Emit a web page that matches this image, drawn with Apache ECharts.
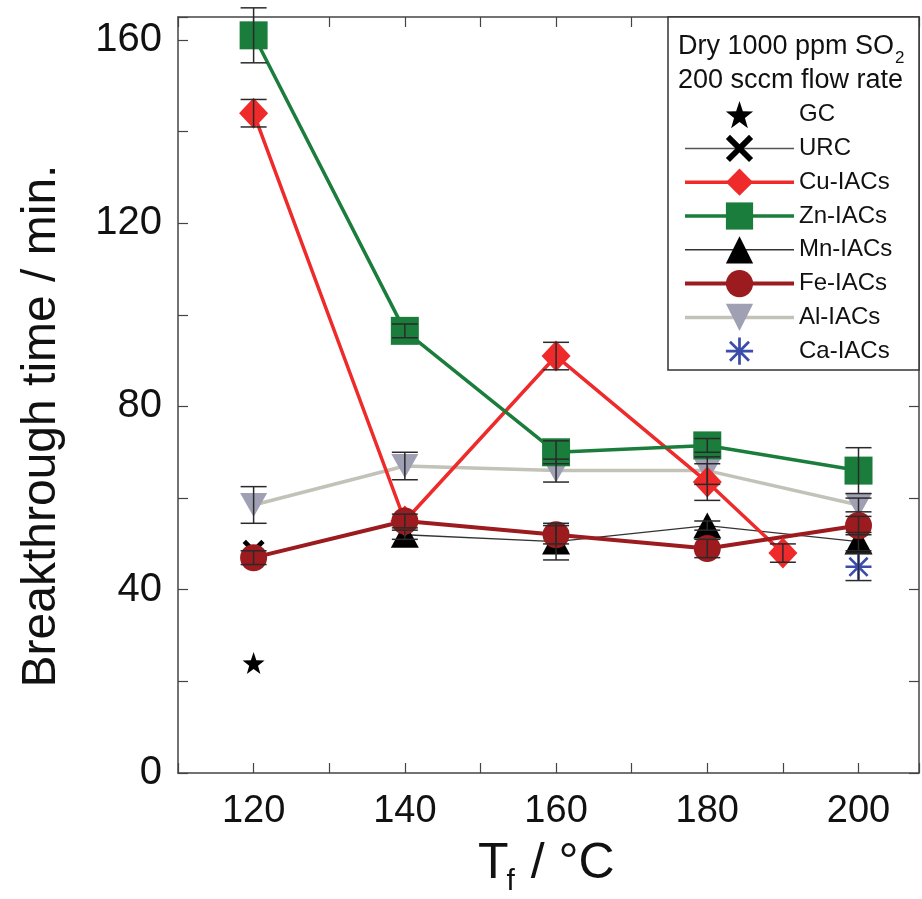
<!DOCTYPE html>
<html><head><meta charset="utf-8">
<script src="https://cdn.jsdelivr.net/npm/echarts@6/dist/echarts.min.js"></script>
<style>html,body{margin:0;padding:0;background:#fff}#c{width:922px;height:899px}</style>
</head><body><div id="c"></div>
<script>
// ---- data ----
const xTickLabels = [120, 140, 160, 180, 200];
const yTickLabels = [0, 40, 80, 120, 160];
const gcT = [120], gcV = [24];
const urcT = [120], urcV = [48.5];
const cuT = [120, 140, 160, 180, 190], cuV = [144, 55, 91, 63.5, 48], cuE = [3, 0, 3, 4, 2];
const znT = [120, 140, 160, 180, 200], znV = [161, 96.5, 70, 71.5, 66], znE = [6, 1.5, 2.5, 1.5, 5];
const mnT = [140, 160, 180, 200], mnV = [52, 50.5, 54, 50.5], mnE = [1, 4, 1, 2];
const feT = [120, 140, 160, 180, 200], feV = [47, 55, 52, 49, 54], feE = [1.5, 1.5, 2, 2, 2];
const alT = [120, 140, 160, 180, 200], alV = [58.5, 67, 66, 66, 58.5], alE = [4, 3, 2.5, 3, 1.5];
const caT = [200], caV = [45], caE = [3];
const legendNames = ['GC', 'URC', 'Cu-IACs', 'Zn-IACs', 'Mn-IACs', 'Fe-IACs', 'Al-IACs', 'Ca-IACs'];

const FONT = "Arial, 'Liberation Sans', sans-serif";
const pts = (T, V) => T.map((t, i) => [t, V[i]]);
const errs = (T, V, E) => T.map((t, i) => [t, V[i] - E[i], V[i] + E[i], E[i]]).filter(d => d[3] > 0);

const STAR = 'path://M0,-10 L2.35,-3.24 L9.51,-3.09 L3.8,1.24 L5.88,8.09 L0,4 L-5.88,8.09 L-3.8,1.24 L-9.51,-3.09 L-2.35,-3.24 Z';
const CROSS = 'path://M-10,-7 L-7,-10 L0,-3 L7,-10 L10,-7 L3,0 L10,7 L7,10 L0,3 L-7,10 L-10,7 L-3,0 Z';
const ASTER = 'path://M-10,-1 L10,-1 L10,1 L-10,1 Z M-1,-10 L1,-10 L1,10 L-1,10 Z M-6.3,-7.7 L7.7,6.3 L6.3,7.7 L-7.7,-6.3 Z M6.3,-7.7 L7.7,-6.3 L-6.3,7.7 L-7.7,6.3 Z';
const DTRI = 'path://M-10,-8 L10,-8 L0,9 Z';

const errorData = [].concat(
  errs(cuT, cuV, cuE), errs(znT, znV, znE), errs(mnT, mnV, mnE),
  errs(feT, feV, feE), errs(alT, alV, alE), errs(caT, caV, caE)
);

const chart = echarts.init(document.getElementById('c'), null, {renderer: 'canvas'});

const ctx = document.createElement('canvas').getContext('2d');
function tw(txt, size) { ctx.font = size + 'px ' + FONT; return ctx.measureText(txt).width; }

const h1 = 'Dry 1000 ppm SO', h1s = 27;
const tT = 'T', tRest = ' / °C', tS = 50;
const xTitleX = 478;

const legendLW = {'GC': 0, 'URC': 1.5, 'Cu-IACs': 3.5, 'Zn-IACs': 3.5, 'Mn-IACs': 1.5, 'Fe-IACs': 4, 'Al-IACs': 3.5, 'Ca-IACs': 0};

function lineSeries(name, T, V, color, symbol, size, lw, lineColor, z) {
  return {
    name, type: 'line', data: pts(T, V), symbol, symbolSize: size,
    itemStyle: {color, borderWidth: 0},
    lineStyle: {color: lineColor || color, width: lw, opacity: lw > 0 ? 1 : 0},
    z: z || 2, animation: false, clip: false
  };
}

const option = {
  animation: false,
  grid: {left: 178, right: 3, top: 17, bottom: 126, containLabel: false},
  xAxis: [{
    type: 'value', min: 110, max: 208, interval: 10,
    axisLine: {show: true, lineStyle: {color: '#444', width: 1.5}},
    axisTick: {show: true, inside: true, length: 10, lineStyle: {color: '#444', width: 1.2}},
    splitLine: {show: false},
    axisLabel: {
      fontSize: 38, fontFamily: FONT, color: '#111', margin: 20,
      formatter: v => xTickLabels.indexOf(v) >= 0 ? String(v) : ''
    }
  }, {
    type: 'value', position: 'top', min: 110, max: 208, interval: 10,
    axisLine: {show: true, onZero: false, lineStyle: {color: '#444', width: 1.5}},
    axisTick: {show: true, inside: true, length: 10, lineStyle: {color: '#444', width: 1.2}},
    splitLine: {show: false}, axisLabel: {show: false}
  }],
  yAxis: [{
    type: 'value', min: 0, max: 165, interval: 20,
    axisLine: {show: true, lineStyle: {color: '#444', width: 1.5}},
    axisTick: {show: true, inside: true, length: 10, lineStyle: {color: '#444', width: 1.2}},
    splitLine: {show: false},
    axisLabel: {
      fontSize: 40, fontFamily: FONT, color: '#111', margin: 16,
      formatter: v => yTickLabels.indexOf(v) >= 0 ? String(v) : ''
    }
  }, {
    type: 'value', position: 'right', min: 0, max: 165, interval: 20,
    axisLine: {show: true, onZero: false, lineStyle: {color: '#444', width: 1.5}},
    axisTick: {show: true, inside: true, length: 10, lineStyle: {color: '#444', width: 1.2}},
    splitLine: {show: false}, axisLabel: {show: false}
  }],
  legend: {
    orient: 'vertical', left: 678, top: 96,
    itemWidth: 109, itemHeight: 34, itemGap: 6.6,
    data: legendNames.map(n => ({name: n, lineStyle: {width: legendLW[n]}})),
    textStyle: {fontSize: 24, fontFamily: FONT, color: '#111'},
    selectedMode: false
  },
  series: [
    lineSeries('Mn-IACs', mnT, mnV, '#000', 'triangle', [28, 26], 1.4, '#333', 2),
    lineSeries('URC', urcT, urcV, '#000', CROSS, 22, 1.4, '#555', 2),
    lineSeries('Al-IACs', alT, alV, '#9fa0b4', DTRI, [27, 24], 3.5, '#c2c2b8', 2),
    lineSeries('Cu-IACs', cuT, cuV, '#ee2a2a', 'diamond', [29, 31], 3.5, '#ee2a2a', 2),
    lineSeries('Zn-IACs', znT, znV, '#1b7d3c', 'rect', 28, 3.5, '#1b7d3c', 2),
    lineSeries('Fe-IACs', feT, feV, '#9c1b1f', 'circle', 27, 4, '#9c1b1f', 2),
    lineSeries('Ca-IACs', caT, caV, '#3a4dab', ASTER, 26, 0, '#3a4dab', 2),
    lineSeries('GC', gcT, gcV, '#000', STAR, 22, 0, '#000', 2),
    {
      name: 'err', type: 'custom', data: errorData, z: 4, clip: false, silent: true,
      encode: {x: 0, y: [1, 2]},
      renderItem: function (params, api) {
        const x = api.value(0), lo = api.value(1), hi = api.value(2);
        const a = api.coord([x, hi]), b = api.coord([x, lo]);
        const w = 13, st = {stroke: '#2a2a2a', lineWidth: 1.5, fill: null};
        return {type: 'group', children: [
          {type: 'line', shape: {x1: a[0], y1: a[1], x2: b[0], y2: b[1]}, style: st},
          {type: 'line', shape: {x1: a[0] - w, y1: a[1], x2: a[0] + w, y2: a[1]}, style: st},
          {type: 'line', shape: {x1: b[0] - w, y1: b[1], x2: b[0] + w, y2: b[1]}, style: st}
        ]};
      }
    }
  ],
  graphic: [
    {type: 'rect', shape: {x: 668, y: 17, width: 251, height: 353}, style: {fill: '#fff', stroke: '#333', lineWidth: 1.5}, z: 1},
    {type: 'text', x: 678, y: 47, style: {text: h1, fontSize: h1s, fontFamily: FONT, fill: '#111', verticalAlign: 'middle'}, z: 5},
    {type: 'text', x: 678 + tw(h1, h1s) + 1, y: 58, style: {text: '2', fontSize: 17, fontFamily: FONT, fill: '#111', verticalAlign: 'middle'}, z: 5},
    {type: 'text', x: 678, y: 81, style: {text: '200 sccm flow rate', fontSize: h1s, fontFamily: FONT, fill: '#111', verticalAlign: 'middle'}, z: 5},
    {type: 'text', x: 42, y: 426, rotation: Math.PI / 2, style: {text: 'Breakthrough time / min.', fontSize: 48, fontFamily: FONT, fill: '#111', align: 'center', verticalAlign: 'middle'}},
    {type: 'text', x: xTitleX, y: 864, style: {text: tT, fontSize: tS, fontFamily: FONT, fill: '#111', verticalAlign: 'middle'}},
    {type: 'text', x: xTitleX + tw(tT, tS) - 2, y: 882, style: {text: 'f', fontSize: 30, fontFamily: FONT, fill: '#111', verticalAlign: 'middle'}},
    {type: 'text', x: xTitleX + tw(tT, tS) + tw('f', 30), y: 864, style: {text: tRest, fontSize: tS, fontFamily: FONT, fill: '#111', verticalAlign: 'middle'}}
  ]
};
chart.setOption(option);
</script>
</body></html>
